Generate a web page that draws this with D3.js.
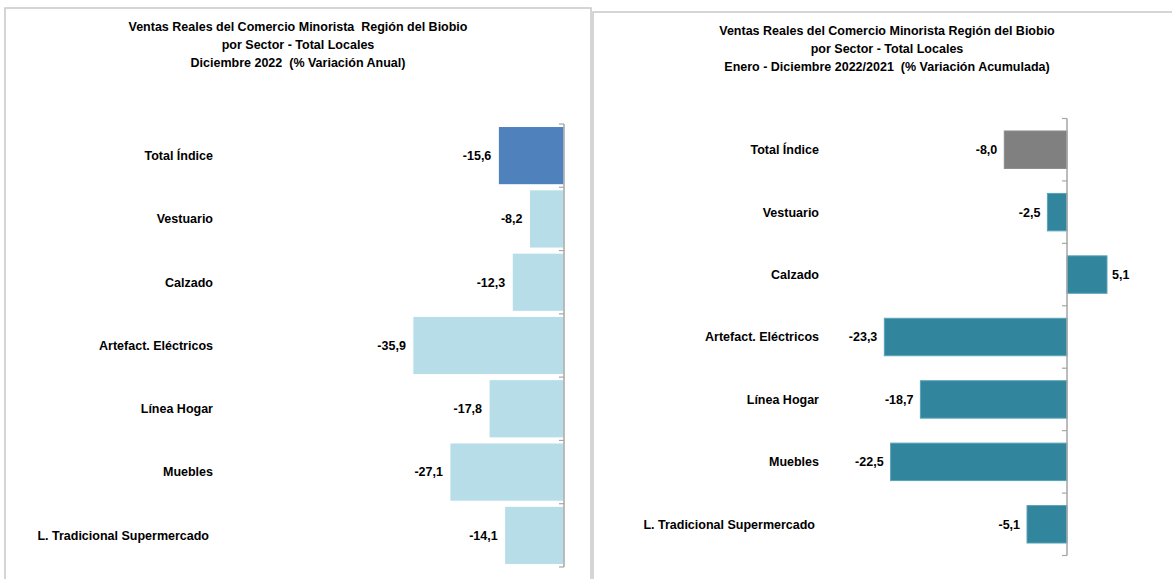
<!DOCTYPE html>
<html>
<head>
<meta charset="utf-8">
<script src="https://d3js.org/d3.v7.min.js"></script>
<style>
  body { margin: 0; background: #fff; }
  text { font-family: "Liberation Sans", Arial, sans-serif; font-weight: bold; fill: #000; white-space: pre; }
</style>
</head>
<body>
<div id="chart"></div>
<script>
    var categories = ["Total Índice", "Vestuario", "Calzado", "Artefact. Eléctricos",
        "Línea Hogar", "Muebles", "L. Tradicional Supermercado"];
    var anual = [-15.6, -8.2, -12.3, -35.9, -17.8, -27.1, -14.1];
    var acumulada = [-8.0, -2.5, 5.1, -23.3, -18.7, -22.5, -5.1];

    var titleLeft = ["Ventas Reales del Comercio Minorista  Región del Biobio",
        "por Sector - Total Locales", "Diciembre 2022  (% Variación Anual)"];
    var titleRight = ["Ventas Reales del Comercio Minorista Región del Biobio",
        "por Sector - Total Locales", "Enero - Diciembre 2022/2021  (% Variación Acumulada)"];

    // comma decimals, plain hyphen for negatives
    var fmt = function (v) { return d3.format(".1f")(v).replace(".", ",").replace("\u2212", "-"); };

    var svg = d3.select("#chart").append("svg")
        .attr("width", 1172)
        .attr("height", 579);

    // panel frames
    svg.append("path").attr("d", "M5,579 V8 H591 V579")
        .attr("fill", "none").attr("stroke", "#c8c8c8").attr("stroke-width", 1.5);
    svg.append("path").attr("d", "M593,579 V12 H1172")
        .attr("fill", "none").attr("stroke", "#c8c8c8").attr("stroke-width", 1.5);

    function drawPanel(opts) {
        var g = svg.append("g");

        g.selectAll(".title")
            .data(opts.title)
            .enter().append("text")
            .attr("x", opts.titleX)
            .attr("y", function (d, i) { return opts.titleY + i * 18; })
            .attr("text-anchor", "middle")
            .style("font-size", "12.5px")
            .text(function (d) { return d; });

        var x = d3.scaleLinear().domain(opts.domain).range(opts.xRange);
        var y = d3.scaleBand().domain(categories).range(opts.yRange).paddingInner(opts.pad).paddingOuter(opts.pad / 2);

        g.selectAll(".bar")
            .data(opts.values)
            .enter().append("rect")
            .attr("x", function (d) { return x(Math.min(0, d)); })
            .attr("width", function (d) { return Math.abs(x(d) - x(0)); })
            .attr("y", function (d, i) { return y(categories[i]); })
            .attr("height", y.bandwidth())
            .attr("fill", function (d, i) { return i === 0 ? opts.totalColor : opts.color; })
            .attr("stroke", function (d, i) { return i === 0 ? opts.totalStroke : opts.barStroke; })
            .attr("stroke-width", 1);

        // axis at zero with ticks between categories
        var axis = g.append("g");
        axis.append("line")
            .attr("x1", x(0)).attr("x2", x(0))
            .attr("y1", opts.yRange[0]).attr("y2", opts.yRange[1])
            .attr("stroke", "#a6a6a6").attr("stroke-width", 1.5);
        var step = y.step();
        axis.selectAll(".tick")
            .data(d3.range(categories.length + 1))
            .enter().append("line")
            .attr("x1", x(0) - 5).attr("x2", x(0))
            .attr("y1", function (i) { return opts.yRange[0] + i * step; })
            .attr("y2", function (i) { return opts.yRange[0] + i * step; })
            .attr("stroke", "#a6a6a6").attr("stroke-width", 1.2);

        g.selectAll(".cat")
            .data(categories)
            .enter().append("text")
            .attr("x", function (d, i) { return i === categories.length - 1 ? opts.catX - 4 : opts.catX; })
            .attr("y", function (d) { return y(d) + y.bandwidth() / 2; })
            .attr("dy", "0.35em")
            .attr("text-anchor", "end")
            .style("font-size", "12.5px")
            .text(function (d) { return d; });

        g.selectAll(".val")
            .data(opts.values)
            .enter().append("text")
            .attr("x", function (d) { return d < 0 ? x(d) - 7 : x(d) + 5; })
            .attr("y", function (d, i) { return y(categories[i]) + y.bandwidth() / 2; })
            .attr("dy", "0.35em")
            .attr("text-anchor", function (d) { return d < 0 ? "end" : "start"; })
            .style("font-size", "12.5px")
            .text(function (d) { return fmt(d); });
    }

    drawPanel({
        title: titleLeft, titleX: 298, titleY: 31,
        values: anual, domain: [-40, 0], xRange: [395.6, 564],
        yRange: [124, 567], pad: 0.08,
        totalColor: "#4f81bd", totalStroke: "#ffffff", color: "#b7dde8", barStroke: "#ffffff",
        catX: 213
    });

    drawPanel({
        title: titleRight, titleX: 887, titleY: 35,
        values: acumulada, domain: [-25, 10], xRange: [871, 1145.4],
        yRange: [118.5, 555.5], pad: 0.4,
        totalColor: "#808080", totalStroke: "#8c8c8c", color: "#31859c", barStroke: "#5aa3b8",
        catX: 819
    });
</script>
</body>
</html>
